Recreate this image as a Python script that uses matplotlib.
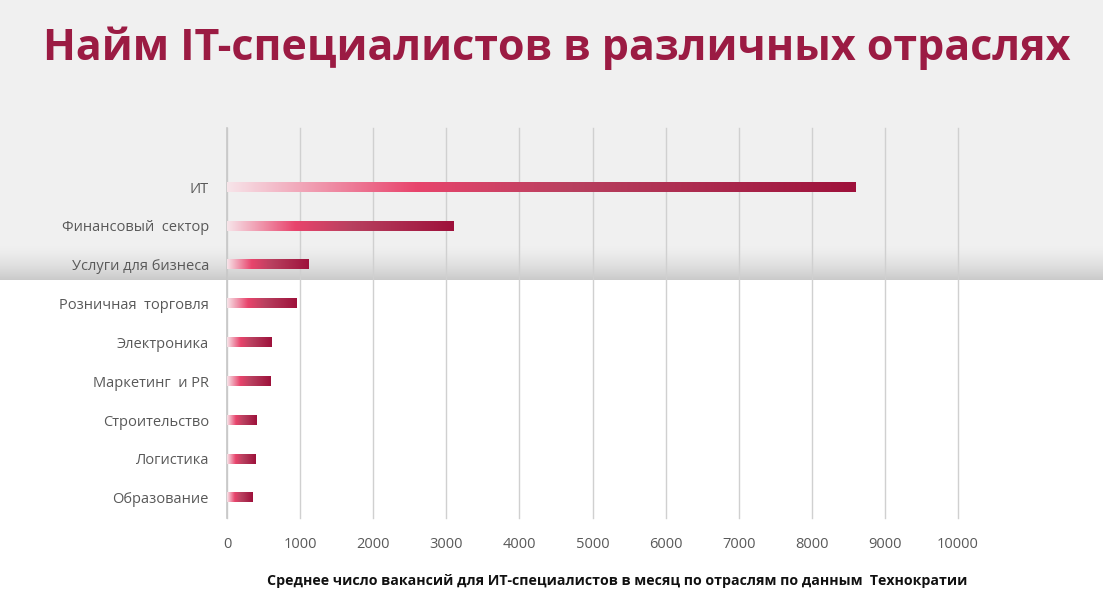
import numpy as np
import matplotlib.pyplot as plt
from matplotlib.colors import LinearSegmentedColormap

# данные
categories = ['ИТ', 'Финансовый  сектор', 'Услуги для бизнеса', 'Розничная  торговля',
              'Электроника', 'Маркетинг  и PR', 'Строительство', 'Логистика', 'Образование']
vacancies = [8600, 3100, 1120, 950, 615, 600, 400, 385, 355]
xticks = [0, 1000, 2000, 3000, 4000, 5000, 6000, 7000, 8000, 9000, 10000]

title = 'Найм IT-специалистов в различных отраслях'
xlabel = 'Среднее число вакансий для ИТ-специалистов в месяц по отраслям по данным  Технократии'

plt.rcParams['font.family'] = ['Open Sans', 'DejaVu Sans']

W, H = 1103, 607
fig = plt.figure(figsize=(W / 100, H / 100), dpi=100)
fig.patch.set_facecolor('white')

# фон: серая полоса сверху с тенью
bg = fig.add_axes([0, 0, 1, 1], zorder=0)
bg.set_axis_off()
rows = np.ones(H)
band_end = 280
shadow_start = 242
rows[:band_end] = 0.945
t = np.linspace(0, 1, band_end - shadow_start)
rows[shadow_start:band_end] = 0.945 - 0.15 * t ** 1.6
img = np.repeat(rows[:, None, None], 3, axis=2).repeat(W, axis=1)
bg.imshow(img, aspect='auto', extent=[0, 1, 0, 1], interpolation='bilinear')
bg.set_xlim(0, 1)
bg.set_ylim(0, 1)

fig.text(557 / W, 1 - 48 / H, title, ha='center', va='center',
         fontsize=31, fontweight='bold', color='#9b1b43')

ax = fig.add_axes([227 / W, 1 - 518 / H, (958 - 227) / W, (518 - 128) / H], zorder=1)
ax.patch.set_alpha(0)

cmap = LinearSegmentedColormap.from_list('bar', [
    (0.0, '#f7e4e9'),
    (0.3, '#e8446c'),
    (0.55, '#b8405f'),
    (1.0, '#9e113b'),
])
grad = np.linspace(0, 1, 256)[None, :]

n = len(categories)
ypos = np.arange(n)[::-1]
bar_h = 0.24
for y, v in zip(ypos, vacancies):
    ax.imshow(grad, cmap=cmap, aspect='auto', interpolation='bilinear',
              extent=[0, v, y - bar_h / 2, y + bar_h / 2], zorder=3)

ax.set_xlim(0, 10000)
ax.set_ylim(-0.52, n - 1 + 1.52)
ax.set_xticks(xticks)
ax.set_xticklabels([str(x) for x in xticks])
ax.set_yticks(ypos)
ax.set_yticklabels(categories)
ax.grid(axis='x', color='#d0d0d0', linewidth=1)
for gl in ax.get_xgridlines():
    gl.set_clip_on(False)
ax.set_axisbelow(True)
for s in ['top', 'right', 'bottom']:
    ax.spines[s].set_visible(False)
ax.spines['left'].set_color('#c8c8c8')
ax.spines['left'].set_linewidth(1.2)
ax.tick_params(axis='both', length=0, labelsize=10.5, labelcolor='#595959')
ax.tick_params(axis='y', pad=13)
ax.tick_params(axis='x', pad=14)

fig.text(617 / W, 1 - 581 / H, xlabel, ha='center', va='center',
         fontsize=10.2, fontweight='bold', color='#111111')

fig.savefig('out.png', dpi=100)
